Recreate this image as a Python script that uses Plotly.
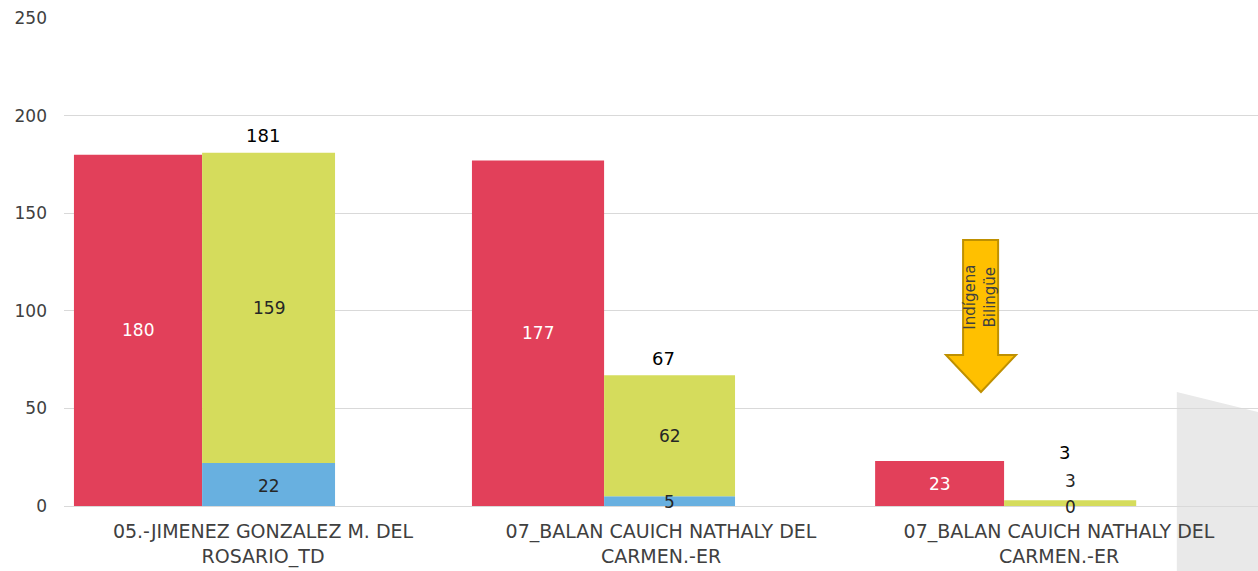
import plotly.graph_objects as go

# Category labels (two-line tick labels)
categories = [
    "05.-JIMENEZ GONZALEZ M. DEL<br>ROSARIO_TD",
    "07_BALAN CAUICH NATHALY DEL<br>CARMEN.-ER",
    "07_BALAN CAUICH NATHALY DEL<br>CARMEN.-ER",
]
red_values = [180, 177, 23]
blue_values = [22, 5, 0]
green_values = [159, 62, 3]
totals = [b + g for b, g in zip(blue_values, green_values)]

y_ticks = [0, 50, 100, 150, 200, 250]

RED = "#E2405A"
BLUE = "#68B0E0"
GREEN = "#D5DC5C"
FONT = "DejaVu Sans"

xpos = list(range(len(categories)))

# bar placement within each category slot (axis units)
RED_OFF = [-0.475, -0.475, -0.462]
RED_W = [0.322, 0.332, 0.324]
STK_OFF = [-0.153, -0.143, -0.138]
STK_W = [0.334, 0.329, 0.332]

fig = go.Figure()
fig.add_trace(go.Bar(x=xpos, y=red_values, marker=dict(color=RED, line=dict(width=0)),
                     offset=RED_OFF, width=RED_W, hoverinfo="y"))
fig.add_trace(go.Bar(x=xpos, y=blue_values, marker=dict(color=BLUE, line=dict(width=0)),
                     offset=STK_OFF, width=STK_W, hoverinfo="y"))
fig.add_trace(go.Bar(x=xpos, y=green_values, base=blue_values,
                     marker=dict(color=GREEN, line=dict(width=0)),
                     offset=STK_OFF, width=STK_W, hoverinfo="y"))

annotations = []
for i in xpos:
    red_c = i + RED_OFF[i] + RED_W[i] / 2
    stk_c = i + STK_OFF[i] + STK_W[i] / 2
    annotations.append(dict(x=red_c, y=red_values[i] / 2, text=str(red_values[i]),
                            showarrow=False, font=dict(family=FONT, size=17, color="white")))
    annotations.append(dict(x=stk_c, y=blue_values[i] / 2, text=str(blue_values[i]),
                            showarrow=False, yshift=-1,
                            font=dict(family=FONT, size=17, color="#262626")))
    short = green_values[i] < 10
    annotations.append(dict(x=stk_c, y=blue_values[i] + green_values[i] / 2,
                            text=str(green_values[i]), showarrow=False,
                            yshift=22 if short else 0,
                            font=dict(family=FONT, size=17, color="#262626")))
    annotations.append(dict(x=stk_c - 0.015, y=totals[i], text=str(totals[i]),
                            showarrow=False, yshift=48 if short else 17,
                            font=dict(family=FONT, size=18, color="black")))

# Arrow callout
annotations.append(dict(x=1.803, y=107, text="Indígena<br>Bilingüe", textangle=-90,
                        showarrow=False,
                        font=dict(family=FONT, size=15, color="#404040")))

arrow_path = ("M 1.759 136.3 L 1.847 136.3 L 1.847 77.4 L 1.892 77.4 "
              "L 1.804 58.4 L 1.716 77.4 L 1.759 77.4 Z")

shapes = [
    dict(type="path", xref="paper", yref="paper",
         path="M 0.932 0.2336 L 1.0 0.1926 L 1.0 -0.14 L 0.932 -0.14 Z",
         fillcolor="#E9E9E9", line=dict(width=0), layer="below"),
    dict(type="path", xref="x", yref="y", path=arrow_path,
         fillcolor="#FFC000", line=dict(color="#BF9000", width=2), layer="above"),
]

fig.update_layout(
    width=1258, height=571,
    margin=dict(l=64, r=0, t=18, b=65),
    paper_bgcolor="white", plot_bgcolor="white",
    showlegend=False,
    barmode="overlay",
    font=dict(family=FONT, size=16, color="#404040"),
    annotations=annotations,
    shapes=shapes,
    xaxis=dict(range=[-0.5, 2.5], tickvals=xpos, ticktext=categories,
               showgrid=False, showline=True, linecolor="#D9D9D9", linewidth=1,
               ticks="", ticklabelstandoff=8,
               tickfont=dict(family=FONT, size=19, color="#404040"),
               zeroline=False, fixedrange=True),
    yaxis=dict(range=[0, 250], tickvals=y_ticks, showgrid=True, gridcolor="#D9D9D9",
               gridwidth=1, zeroline=False, showline=False, ticks="",
               ticklabelstandoff=16,
               tickfont=dict(family=FONT, size=17, color="#404040"), fixedrange=True),
)

fig.write_html("out.html")
